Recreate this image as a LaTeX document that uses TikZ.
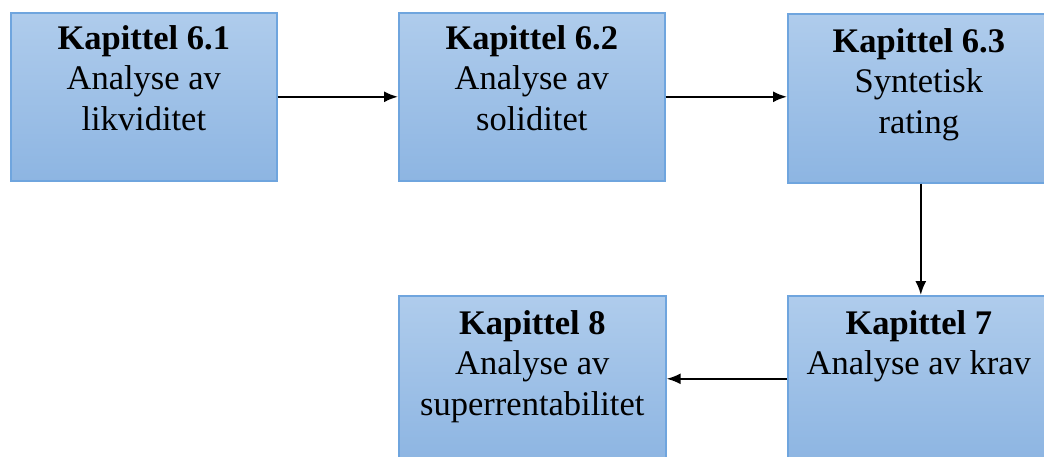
\documentclass[tikz,border=0pt]{standalone}
\usepackage{fontspec}
\setmainfont{Liberation Serif}
\usetikzlibrary{arrows.meta}
\definecolor{boxTop}{HTML}{AFCCEC}
\definecolor{boxBot}{HTML}{8DB5E2}
\definecolor{boxEdge}{HTML}{6FA5DE}
\tikzset{
  chapbox/.style={draw=boxEdge, line width=1.6pt, top color=boxTop, bottom color=boxBot,
    rectangle, inner sep=0pt, anchor=north west},
  chaplabel/.style={anchor=north, align=center, inner sep=0pt,
    font=\fontsize{34.5}{40.5}\selectfont},
  flow/.style={line width=2pt, -{Latex[length=14pt,width=11pt]}}
}
\begin{document}
\begin{tikzpicture}[x=1pt,y=-1pt]
  \useasboundingbox (0,0) rectangle (1044,457);
  \clip (0,0) rectangle (1044,457);
  \fill[white] (0,0) rectangle (1044,457);

  % chapter boxes
  \node[chapbox, minimum width=266pt, minimum height=168pt] (k61) at (10,12) {};
  \node[chapbox, minimum width=266pt, minimum height=168pt] (k62) at (398,12) {};
  \node[chapbox, minimum width=262pt, minimum height=169pt] (k63) at (787,13) {};
  \node[chapbox, minimum width=267pt, minimum height=166pt] (k8) at (398,295) {};
  \node[chapbox, minimum width=262pt, minimum height=166pt] (k7) at (787,295) {};

  % box texts
  \node[chaplabel] (t61) at ([yshift=-13pt]k61.north) {\textbf{Kapittel 6.1}\\Analyse av\\likviditet};
  \node[chaplabel] (t62) at ([yshift=-13pt]k62.north) {\textbf{Kapittel 6.2}\\Analyse av\\soliditet};
  \node[chaplabel] (t63) at ([yshift=-15pt]k63.north) {\textbf{Kapittel 6.3}\\Syntetisk\\rating};
  \node[chaplabel] (t8) at ([yshift=-15pt]k8.north) {\textbf{Kapittel 8}\\Analyse av\\superrentabilitet};
  \node[chaplabel] (t7) at ([yshift=-15pt]k7.north) {\textbf{Kapittel 7}\\Analyse av krav};

  % reading order
  \draw[flow] (k61.east) -- (k62.west);
  \draw[flow] (k62.east) -- (k62.east -| k63.west);
  \draw[flow] ([xshift=2pt]k63.south) -- ([xshift=2pt]k63.south |- k7.north);
  \draw[flow] (k7.west) -- (k7.west -| k8.east);
\end{tikzpicture}
\end{document}
